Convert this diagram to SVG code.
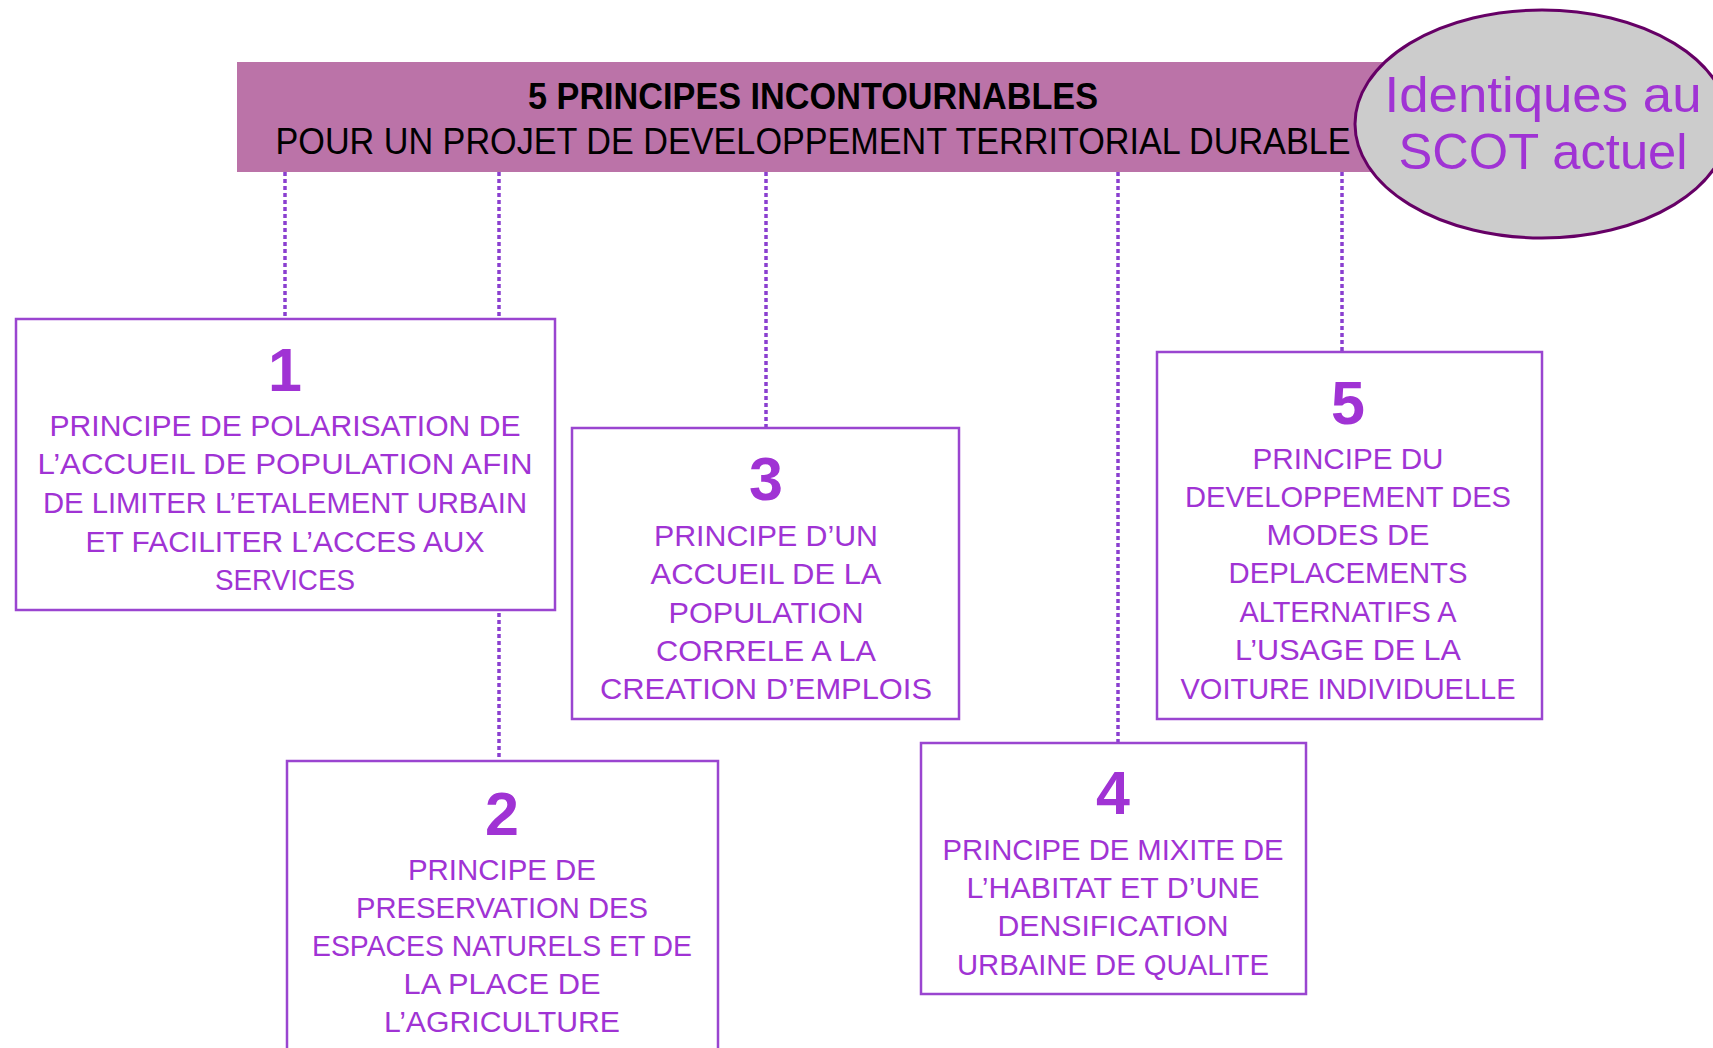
<svg xmlns="http://www.w3.org/2000/svg" width="1713" height="1048" viewBox="0 0 1713 1048">
<style>
.conn{stroke:#8a3fd0;stroke-width:3.5;stroke-dasharray:4 3;fill:none}
.box{fill:#ffffff;stroke:#9a45d0;stroke-width:2.5}
.num{font-family:"Liberation Sans",Arial,sans-serif;font-weight:bold;font-size:61px;fill:#a033d4;text-anchor:middle}
.txt{font-family:"Liberation Sans",Arial,sans-serif;font-size:30px;fill:#a033d4;text-anchor:middle}
.t1{font-family:"Liberation Sans",Arial,sans-serif;font-weight:bold;font-size:37px;fill:#000;text-anchor:middle}
.t2{font-family:"Liberation Sans",Arial,sans-serif;font-size:37px;fill:#000;text-anchor:middle}
.ell{font-family:"Liberation Sans",Arial,sans-serif;font-size:50px;fill:#a033d4;text-anchor:middle}
</style>
<rect width="1713" height="1048" fill="#ffffff"/>
<g id="connectors">
<line class="conn" x1="285" y1="172" x2="285" y2="319"/>
<line class="conn" x1="499" y1="172" x2="499" y2="761"/>
<line class="conn" x1="766" y1="172" x2="766" y2="428"/>
<line class="conn" x1="1118" y1="172" x2="1118" y2="743"/>
<line class="conn" x1="1342" y1="172" x2="1342" y2="352"/>
</g>
<g id="banner">
<rect x="237" y="62" width="1200" height="110" fill="#bb73a8"/>
<text class="t1" x="813" y="109" textLength="570" lengthAdjust="spacingAndGlyphs">5 PRINCIPES INCONTOURNABLES</text>
<text class="t2" x="813" y="154" textLength="1075" lengthAdjust="spacingAndGlyphs">POUR UN PROJET DE DEVELOPPEMENT TERRITORIAL DURABLE</text>
</g>
<g id="node1">
<rect class="box" x="16" y="319" width="539" height="291"/>
<text class="num" x="285" y="391">1</text>
<text class="txt" x="285" y="436" textLength="471" lengthAdjust="spacingAndGlyphs">PRINCIPE DE POLARISATION DE</text>
<text class="txt" x="285" y="474" textLength="495" lengthAdjust="spacingAndGlyphs">L’ACCUEIL DE POPULATION AFIN</text>
<text class="txt" x="285" y="513" textLength="484" lengthAdjust="spacingAndGlyphs">DE LIMITER L’ETALEMENT URBAIN</text>
<text class="txt" x="285" y="552" textLength="399" lengthAdjust="spacingAndGlyphs">ET FACILITER L’ACCES AUX</text>
<text class="txt" x="285" y="590" textLength="140" lengthAdjust="spacingAndGlyphs">SERVICES</text>
</g>
<g id="node2">
<rect class="box" x="287" y="761" width="431" height="300"/>
<text class="num" x="502" y="835">2</text>
<text class="txt" x="502" y="880" textLength="188" lengthAdjust="spacingAndGlyphs">PRINCIPE DE</text>
<text class="txt" x="502" y="918" textLength="292" lengthAdjust="spacingAndGlyphs">PRESERVATION DES</text>
<text class="txt" x="502" y="956" textLength="380" lengthAdjust="spacingAndGlyphs">ESPACES NATURELS ET DE</text>
<text class="txt" x="502" y="994" textLength="197" lengthAdjust="spacingAndGlyphs">LA PLACE DE</text>
<text class="txt" x="502" y="1032" textLength="236" lengthAdjust="spacingAndGlyphs">L’AGRICULTURE</text>
</g>
<g id="node3">
<rect class="box" x="572" y="428" width="387" height="291"/>
<text class="num" x="766" y="500">3</text>
<text class="txt" x="766" y="546" textLength="224" lengthAdjust="spacingAndGlyphs">PRINCIPE D’UN</text>
<text class="txt" x="766" y="584" textLength="231" lengthAdjust="spacingAndGlyphs">ACCUEIL DE LA</text>
<text class="txt" x="766" y="623" textLength="195" lengthAdjust="spacingAndGlyphs">POPULATION</text>
<text class="txt" x="766" y="661" textLength="220" lengthAdjust="spacingAndGlyphs">CORRELE A LA</text>
<text class="txt" x="766" y="699" textLength="332" lengthAdjust="spacingAndGlyphs">CREATION D’EMPLOIS</text>
</g>
<g id="node4">
<rect class="box" x="921" y="743" width="385" height="251"/>
<text class="num" x="1113" y="814">4</text>
<text class="txt" x="1113" y="860" textLength="341" lengthAdjust="spacingAndGlyphs">PRINCIPE DE MIXITE DE</text>
<text class="txt" x="1113" y="898" textLength="293" lengthAdjust="spacingAndGlyphs">L’HABITAT ET D’UNE</text>
<text class="txt" x="1113" y="936" textLength="231" lengthAdjust="spacingAndGlyphs">DENSIFICATION</text>
<text class="txt" x="1113" y="975" textLength="312" lengthAdjust="spacingAndGlyphs">URBAINE DE QUALITE</text>
</g>
<g id="node5">
<rect class="box" x="1157" y="352" width="385" height="367"/>
<text class="num" x="1348" y="424">5</text>
<text class="txt" x="1348" y="469" textLength="191" lengthAdjust="spacingAndGlyphs">PRINCIPE DU</text>
<text class="txt" x="1348" y="507" textLength="326" lengthAdjust="spacingAndGlyphs">DEVELOPPEMENT DES</text>
<text class="txt" x="1348" y="545" textLength="163" lengthAdjust="spacingAndGlyphs">MODES DE</text>
<text class="txt" x="1348" y="583" textLength="239" lengthAdjust="spacingAndGlyphs">DEPLACEMENTS</text>
<text class="txt" x="1348" y="622" textLength="217" lengthAdjust="spacingAndGlyphs">ALTERNATIFS A</text>
<text class="txt" x="1348" y="660" textLength="226" lengthAdjust="spacingAndGlyphs">L’USAGE DE LA</text>
<text class="txt" x="1348" y="699" textLength="335" lengthAdjust="spacingAndGlyphs">VOITURE INDIVIDUELLE</text>
</g>
<g id="badge">
<ellipse cx="1542" cy="124" rx="187" ry="114" fill="#cccccc" stroke="#660066" stroke-width="3"/>
<text class="ell" x="1543" y="112" textLength="317" lengthAdjust="spacingAndGlyphs">Identiques au</text>
<text class="ell" x="1543" y="169" textLength="289" lengthAdjust="spacingAndGlyphs">SCOT actuel</text>
</g>
</svg>
